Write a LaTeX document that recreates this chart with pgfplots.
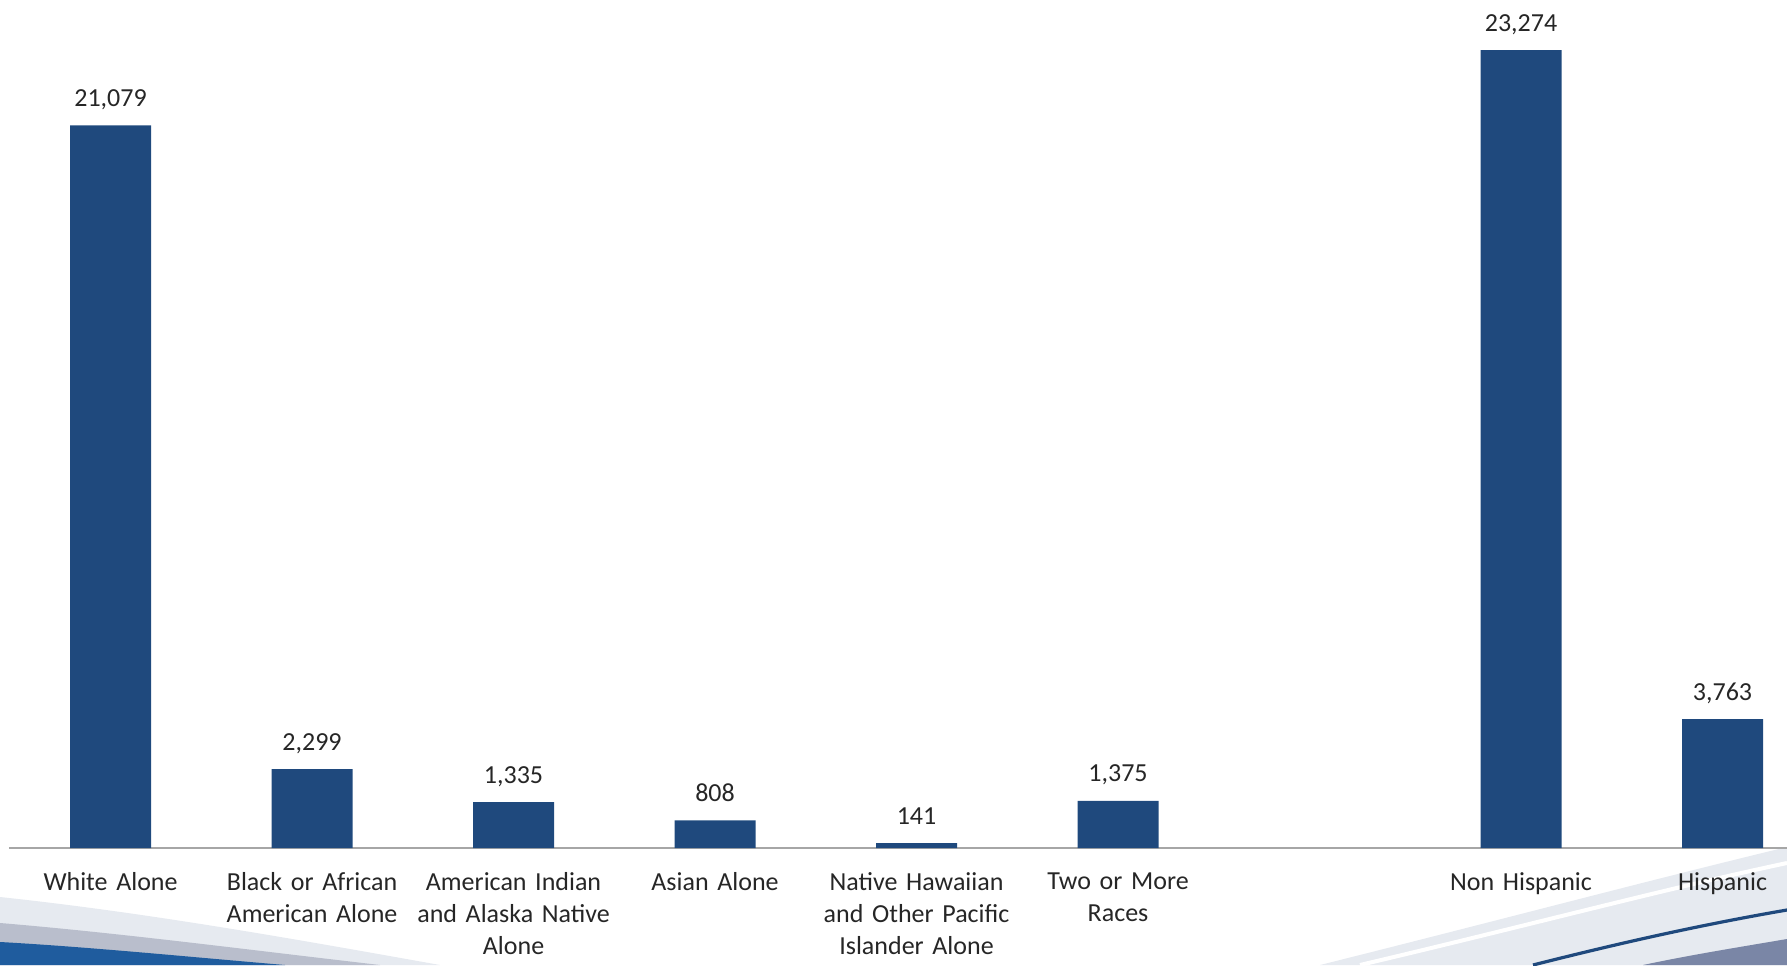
\documentclass[border=0pt]{standalone}
\usepackage{pgfplots}
\pgfplotsset{compat=1.18}
\usepackage{fontspec}
\setmainfont{Carlito}
\definecolor{barblue}{HTML}{1F497D}
\definecolor{txt}{HTML}{262626}
\definecolor{axgray}{HTML}{A6A6A6}
\definecolor{lightband}{HTML}{E6EAF0}
\definecolor{midband}{HTML}{B9BECC}
\definecolor{decoblue}{HTML}{1F5C9E}
\definecolor{cornerblue}{HTML}{7A86A6}
\begin{document}
\begin{tikzpicture}
\useasboundingbox (0,0) rectangle (893.5pt,482.5pt);
\begin{scope}[x=0.5pt,y=0.5pt]
  % bottom-left decoration
  \fill[lightband] (0,68) .. controls (150,52) and (300,25) .. (440,0) -- (0,0) -- cycle;
  \fill[midband] (0,42) .. controls (120,32) and (250,15) .. (380,0) -- (0,0) -- cycle;
  \fill[decoblue] (0,23) .. controls (90,18) and (190,8) .. (285,0) -- (0,0) -- cycle;
  % bottom-right decoration
  \fill[lightband] (1320,0) .. controls (1500,45) and (1650,85) .. (1787,118) -- (1787,0) -- cycle;
  \draw[white, line width=2pt] (1360,0) .. controls (1530,40) and (1660,75) .. (1787,102);
  \draw[barblue, line width=1.6pt] (1533,0) .. controls (1620,22) and (1700,40) .. (1787,55);
  \fill[cornerblue] (1643,0) .. controls (1690,10) and (1740,18) .. (1787,26) -- (1787,0) -- cycle;
\end{scope}
\begin{axis}[
  at={(4.5pt,58.5pt)}, anchor=south west,
  scale only axis,
  width=889pt, height=424pt,
  xmin=-0.504, xmax=8.32,
  ymin=0, ymax=24738,
  axis y line=none,
  axis x line*=bottom,
  x axis line style={axgray, line width=0.8pt},
  ybar, bar width=40.5pt,
  xtick={0,1,2,3,4,5,7,8},
  xticklabels={White Alone, Black or African\\American Alone, American Indian\\and Alaska Native\\Alone, Asian Alone, Native Hawaiian\\and Other Pacific\\Islander Alone, Two or More\\Races, Non Hispanic, Hispanic},
  major tick length=0pt,
  xticklabel style={font=\fontsize{13}{16}\selectfont, text=txt, align=center, text width=110pt, anchor=north, inner sep=0pt, yshift=-12pt},
  clip=false,
  nodes near coords,
  point meta=y,
  /pgf/number format/.cd, 1000 sep={,}, assume math mode=true,
  /pgfplots/.cd,
  nodes near coords style={font=\fontsize{13}{16}\selectfont, text=txt, anchor=base, inner sep=0pt, yshift=9.5pt},
]
\addplot[fill=barblue, draw=none] coordinates {
  (0,21079) (1,2299) (2,1335) (3,808) (4,141) (5,1375) (7,23274) (8,3763)
};
\end{axis}
\end{tikzpicture}
\end{document}
